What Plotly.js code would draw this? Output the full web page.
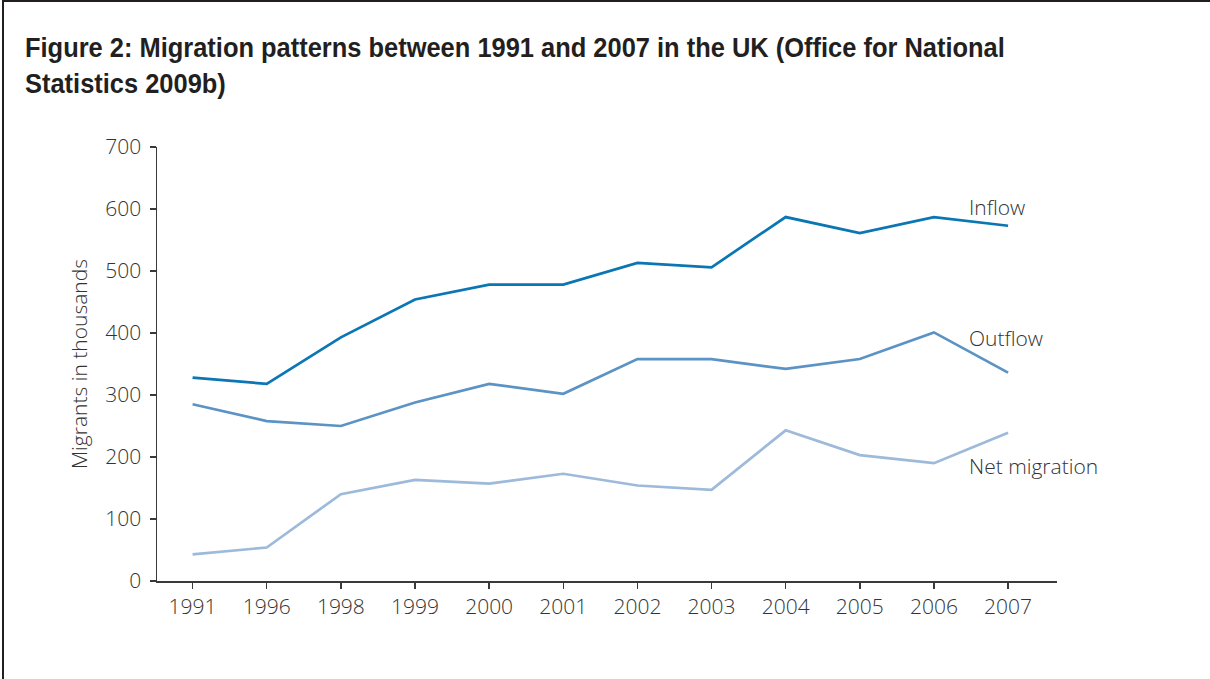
<!DOCTYPE html>
<html>
<head>
<meta charset="utf-8">
<script src="https://cdn.plot.ly/plotly-3.0.1.min.js"></script>
<style>
  html, body { margin: 0; padding: 0; background: #fff; }
  #wrap { position: relative; width: 1210px; height: 679px; overflow: hidden; }
  #chart { position: absolute; left: 0; top: 0; width: 1210px; height: 679px; }
  #frame { position: absolute; left: 2px; top: 0; width: 1220px; height: 700px;
           border-top: 2px solid #231f20; border-left: 2px solid #231f20; pointer-events: none; }
</style>
</head>
<body>
<div id="wrap"><div id="chart"></div><div id="frame"></div></div>
<script>
const years = ['1991','1996','1998','1999','2000','2001','2002','2003','2004','2005','2006','2007'];
const inflow = [328, 318, 393, 454, 478, 478, 513, 506, 587, 561, 587, 573];
const outflow = [285, 258, 250, 288, 318, 302, 358, 358, 342, 358, 401, 336];
const netMigration = [43, 54, 140, 163, 157, 173, 154, 147, 243, 203, 190, 239];
const seriesNames = ['Inflow', 'Outflow', 'Net migration'];
const labelY = [604, 392, 186];

const colors = ['#0a76b3', '#5b93c5', '#9dbadb'];
const allSeries = [inflow, outflow, netMigration];

const traces = allSeries.map((vals, i) => ({
  type: 'scatter', mode: 'lines', x: years, y: vals, name: seriesNames[i],
  line: { color: colors[i], width: 2.7 }, hoverinfo: 'x+y'
}));

const lightFont = { family: '"Open Sans", "Noto Sans", sans-serif', size: 21, color: '#333333', weight: 300 };

const annotations = seriesNames.map((n, i) => ({
  text: n, xref: 'paper', yref: 'y', x: 0.9, y: labelY[i], xanchor: 'left', yanchor: 'middle',
  showarrow: false, font: lightFont
}));

const TITLE_LEFT = 25, TITLE_WIDTH = 980;

const layout = {
  width: 1210, height: 679,
  margin: { l: 157, r: 153, t: 147, b: 98 },
  paper_bgcolor: '#fff', plot_bgcolor: '#fff',
  showlegend: false,
  title: {
    text: 'Figure 2: Migration patterns between 1991 and 2007 in the UK (Office for National<br>Statistics 2009b)',
    xref: 'container', yref: 'container', x: TITLE_LEFT/1210, xanchor: 'left', y: 1 - 57/679, yanchor: 'top',
    font: { family: '"Liberation Sans", Arial, sans-serif', size: 28, color: '#231f20', weight: 700 }
  },
  xaxis: {
    type: 'category', range: [-0.48, 11.66],
    showline: true, linecolor: '#3a3a3a', linewidth: 1.5,
    ticks: 'outside', ticklen: 6, tickcolor: '#3a3a3a', tickwidth: 1.5,
    showgrid: false, zeroline: false, tickfont: lightFont, fixedrange: true
  },
  yaxis: {
    range: [0, 700], tickvals: [0,100,200,300,400,500,600,700],
    showline: true, linecolor: '#3a3a3a', linewidth: 1.5,
    ticks: 'outside', ticklen: 6, tickcolor: '#3a3a3a', tickwidth: 1.5, ticklabelstandoff: 4,
    showgrid: false, zeroline: false, tickfont: lightFont, fixedrange: true,
    title: { text: 'Migrants in thousands', font: lightFont, standoff: 12 }
  },
  annotations: annotations
};

Plotly.newPlot('chart', traces, layout, { displayModeBar: false, staticPlot: true }).then(gd => {
  // condense the bold title horizontally to mimic the narrow typeface of the original
  const g = gd.querySelector('.g-gtitle');
  const t = g && g.querySelector('text');
  if (t) {
    const w = t.getBBox().width;
    if (w > 0) {
      const s = TITLE_WIDTH / w;
      g.setAttribute('transform', `translate(${TITLE_LEFT},0) scale(${s},1) translate(${-TITLE_LEFT},0)`);
    }
  }
});
</script>
</body>
</html>
